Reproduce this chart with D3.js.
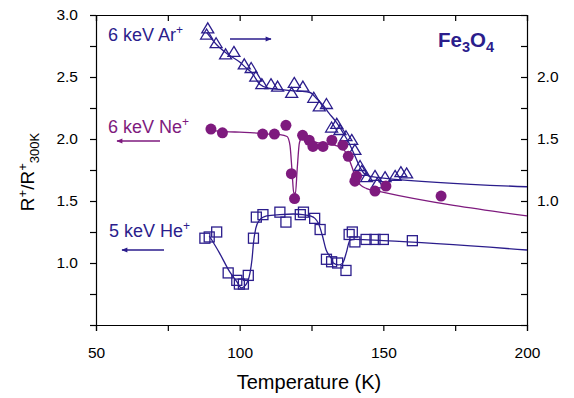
<!DOCTYPE html>
<html>
<head>
<meta charset="utf-8">
<script src="https://cdn.jsdelivr.net/npm/d3@7"></script>
<style>
  body { margin: 0; background: #fff; }
  svg { font-family: "Liberation Sans", Arial, sans-serif; }
</style>
</head>
<body>
<figure id="chart" style="margin:0"></figure>
<script>
// 6 keV Ar+ (read on the right axis)
const arT   = [88.5, 88.9, 91.8, 95.1, 98.0, 101.6, 104.0, 105.6, 107.7, 110.9, 113.2, 118.1, 119.0, 122.0, 125.8, 127.7, 130.2, 132.0, 133.8, 134.9, 137.0, 139.0, 140.1, 141.9, 142.5, 144.2, 147.1, 147.9, 150.6, 154.1, 156.1, 158.1];
const arVal = [2.34, 2.39, 2.27, 2.18, 2.20, 2.10, 2.07, 2.00, 1.94, 1.94, 1.92, 1.87, 1.95, 1.92, 1.83, 1.76, 1.78, 1.59, 1.62, 1.57, 1.52, 1.49, 1.41, 1.28, 1.24, 1.19, 1.20, 1.14, 1.19, 1.20, 1.23, 1.22];
const arFitT   = [88.5, 92, 95.5, 100, 102.4, 104, 107.1, 110, 114, 118, 121, 124.5, 127, 129.1, 131, 133.5, 136, 138, 140, 141.5, 143, 145, 148, 150, 200];
const arFitVal = [2.36, 2.26, 2.19, 2.12, 2.07, 2.04, 1.94, 1.91, 1.90, 1.89, 1.885, 1.875, 1.82, 1.77, 1.71, 1.64, 1.55, 1.47, 1.37, 1.29, 1.23, 1.20, 1.19, 1.185, 1.115];

// 6 keV Ne+ (left axis)
const neT   = [90.0, 94.0, 108.0, 112.1, 116.1, 118.0, 119.1, 121.9, 124.2, 125.5, 129.0, 132.1, 135.9, 137.8, 140.1, 140.7, 147.1, 150.9, 170.1];
const neVal = [2.08, 2.05, 2.04, 2.04, 2.11, 1.72, 1.52, 2.03, 1.99, 1.94, 1.94, 1.99, 1.95, 1.86, 1.66, 1.70, 1.58, 1.62, 1.54];
const neFitT   = [90, 95, 100, 105, 110, 114, 116.5, 117.5, 118.2, 118.8, 119.4, 120.0, 120.8, 122, 124, 127, 130, 133, 135.5, 137.5, 139, 140.5, 142, 144.2, 148.9, 200];
const neFitVal = [2.07, 2.06, 2.055, 2.05, 2.04, 2.035, 2.02, 1.95, 1.75, 1.57, 1.56, 1.75, 1.97, 2.02, 2.0, 1.97, 1.96, 1.95, 1.93, 1.87, 1.78, 1.68, 1.63, 1.60, 1.575, 1.38];

// 5 keV He+ (left axis)
const heT   = [87.9, 89.4, 92.0, 96.0, 99.0, 99.9, 101.3, 103.0, 104.8, 105.8, 108.1, 114.0, 116.1, 121.1, 122.2, 126.1, 128.0, 130.2, 132.0, 134.1, 137.0, 138.1, 139.2, 140.1, 144.0, 147.1, 150.0, 160.1];
const heVal = [1.20, 1.21, 1.25, 0.92, 0.86, 0.83, 0.83, 0.90, 1.20, 1.37, 1.39, 1.41, 1.33, 1.39, 1.41, 1.36, 1.27, 1.03, 1.01, 1.00, 0.94, 1.23, 1.25, 1.17, 1.19, 1.19, 1.19, 1.18];
const heFitT   = [89.4, 93, 96.5, 99, 100.5, 102, 103.6, 104.3, 104.8, 105.6, 106.7, 109.4, 114, 118.7, 122, 124.5, 126.2, 127.4, 128.8, 130.1, 131.2, 132.0, 132.6, 134.3, 135.3, 136.1, 137.2, 138.4, 140.1, 150, 200];
const heFitVal = [1.22, 1.08, 0.93, 0.85, 0.80, 0.82, 0.92, 1.03, 1.16, 1.28, 1.34, 1.38, 1.39, 1.395, 1.39, 1.38, 1.36, 1.32, 1.22, 1.105, 1.06, 1.035, 1.00, 0.985, 0.99, 1.01, 1.09, 1.185, 1.19, 1.18, 1.105];

const xTicks = [50, 75, 100, 125, 150, 175, 200];
const xLabels = [50, 100, 150, 200];
const yLeftTicks = [0.5, 0.75, 1.0, 1.25, 1.5, 1.75, 2.0, 2.25, 2.5, 2.75, 3.0];
const yLeftLabels = [1.0, 1.5, 2.0, 2.5, 3.0];
const yRightTicks = [0, 0.25, 0.5, 0.75, 1.0, 1.25, 1.5, 1.75, 2.0, 2.25, 2.5];
const yRightLabels = [1.0, 1.5, 2.0];

const navy = '#2b1d8c';
const purple = '#7e1a7e';

const width = 574, height = 398;
const margin = { top: 15, right: 47, bottom: 73, left: 96 };
const innerW = width - margin.left - margin.right;
const innerH = height - margin.top - margin.bottom;

const svg = d3.select('#chart').append('svg')
  .attr('width', width)
  .attr('height', height);

const defs = svg.append('defs');
[['arrNavy', navy], ['arrPurple', purple]].forEach(([id, c]) => {
  defs.append('marker')
    .attr('id', id)
    .attr('viewBox', '0 0 10 10')
    .attr('refX', 9).attr('refY', 5)
    .attr('markerWidth', 9).attr('markerHeight', 6)
    .attr('markerUnits', 'userSpaceOnUse')
    .attr('orient', 'auto')
    .append('path')
    .attr('d', 'M0,1L10,5L0,9Z')
    .attr('fill', c);
});

const g = svg.append('g').attr('transform', `translate(${margin.left},${margin.top})`);

const x = d3.scaleLinear().domain([50, 200]).range([0, innerW]);
const yL = d3.scaleLinear().domain([0.5, 3.0]).range([innerH, 0]);
const yR = d3.scaleLinear().domain([0, 2.5]).range([innerH, 0]);

const fmt = d3.format('.1f');
const has = (arr, d) => arr.some(v => Math.abs(v - d) < 1e-9);

// axes
g.append('g').attr('class', 'axis')
  .attr('transform', `translate(0,${innerH})`)
  .call(d3.axisBottom(x).tickValues(xTicks).tickSize(6).tickPadding(16)
    .tickFormat(d => has(xLabels, d) ? d : ''));
g.append('g').attr('class', 'axis')
  .call(d3.axisTop(x).tickValues(xTicks).tickSize(-6).tickFormat(''));
g.append('g').attr('class', 'axis')
  .call(d3.axisLeft(yL).tickValues(yLeftTicks).tickSize(6).tickPadding(12)
    .tickFormat(d => has(yLeftLabels, d) ? fmt(d) : ''));
g.append('g').attr('class', 'axis')
  .attr('transform', `translate(${innerW},0)`)
  .call(d3.axisRight(yR).tickValues(yRightTicks).tickSize(-6).tickPadding(10)
    .tickFormat(d => has(yRightLabels, d) ? fmt(d) : ''));

g.selectAll('.axis path, .axis line').attr('stroke', '#000').attr('stroke-width', 1.2);
g.selectAll('.axis text').attr('font-size', 15.5).attr('fill', '#000')
  .attr('font-family', '"Liberation Sans", Arial, sans-serif');

// fitted curves
const lineL = d3.line().x(d => x(d[0])).y(d => yL(d[1])).curve(d3.curveMonotoneX);
const lineR = d3.line().x(d => x(d[0])).y(d => yR(d[1])).curve(d3.curveMonotoneX);

g.append('path').datum(d3.zip(arFitT, arFitVal)).attr('d', lineR)
  .attr('fill', 'none').attr('stroke', navy).attr('stroke-width', 1.3);
g.append('path').datum(d3.zip(neFitT, neFitVal)).attr('d', lineL)
  .attr('fill', 'none').attr('stroke', purple).attr('stroke-width', 1.3);
g.append('path').datum(d3.zip(heFitT, heFitVal)).attr('d', lineL)
  .attr('fill', 'none').attr('stroke', navy).attr('stroke-width', 1.3);

// markers
const tri = 'M0,-5.8L6,4.2L-6,4.2Z';
g.selectAll('.ar').data(d3.zip(arT, arVal)).enter().append('path')
  .attr('transform', d => `translate(${x(d[0])},${yR(d[1])})`)
  .attr('d', tri)
  .attr('fill', 'none').attr('stroke', navy).attr('stroke-width', 1.3);

g.selectAll('.he').data(d3.zip(heT, heVal)).enter().append('rect')
  .attr('x', d => x(d[0]) - 5).attr('y', d => yL(d[1]) - 5)
  .attr('width', 10).attr('height', 10)
  .attr('fill', 'none').attr('stroke', navy).attr('stroke-width', 1.3);

g.selectAll('.ne').data(d3.zip(neT, neVal)).enter().append('circle')
  .attr('cx', d => x(d[0])).attr('cy', d => yL(d[1]))
  .attr('r', 5.5).attr('fill', purple);

// series labels and arrows
function label(txt, xp, yp, color) {
  const t = svg.append('text').attr('x', xp).attr('y', yp)
    .attr('font-size', 18).attr('fill', color);
  t.append('tspan').text(txt);
  t.append('tspan').text('+').attr('font-size', 12).attr('dy', -7);
}
label('6 keV Ar', 108, 41, navy);
label('6 keV Ne', 108, 133, purple);
label('5 keV He', 109, 237, navy);

svg.append('line').attr('x1', 230).attr('y1', 39).attr('x2', 271).attr('y2', 39)
  .attr('stroke', navy).attr('stroke-width', 1.3).attr('marker-end', 'url(#arrNavy)');
svg.append('line').attr('x1', 160).attr('y1', 141).attr('x2', 117).attr('y2', 141)
  .attr('stroke', purple).attr('stroke-width', 1.3).attr('marker-end', 'url(#arrPurple)');
svg.append('line').attr('x1', 164).attr('y1', 250).attr('x2', 122).attr('y2', 250)
  .attr('stroke', navy).attr('stroke-width', 1.3).attr('marker-end', 'url(#arrNavy)');

// compound label
const fe = svg.append('text').attr('x', 438).attr('y', 47)
  .attr('font-size', 20.5).attr('font-weight', 'bold').attr('fill', navy);
fe.append('tspan').text('Fe');
fe.append('tspan').text('3').attr('font-size', 14.5).attr('dy', 5);
fe.append('tspan').text('O').attr('dy', -5);
fe.append('tspan').text('4').attr('font-size', 14.5).attr('dy', 5);

// axis titles
svg.append('text').attr('x', 309).attr('y', 389).attr('text-anchor', 'middle')
  .attr('font-size', 20).text('Temperature (K)');

const yt = svg.append('text')
  .attr('transform', 'translate(34,172) rotate(-90)')
  .attr('text-anchor', 'middle').attr('font-size', 19);
yt.append('tspan').text('R');
yt.append('tspan').text('+').attr('font-size', 13).attr('dy', -7);
yt.append('tspan').text('/R').attr('dy', 7);
yt.append('tspan').text('+').attr('font-size', 13).attr('dy', -7);
yt.append('tspan').text('300K').attr('font-size', 13).attr('dy', 12);
</script>
</body>
</html>
